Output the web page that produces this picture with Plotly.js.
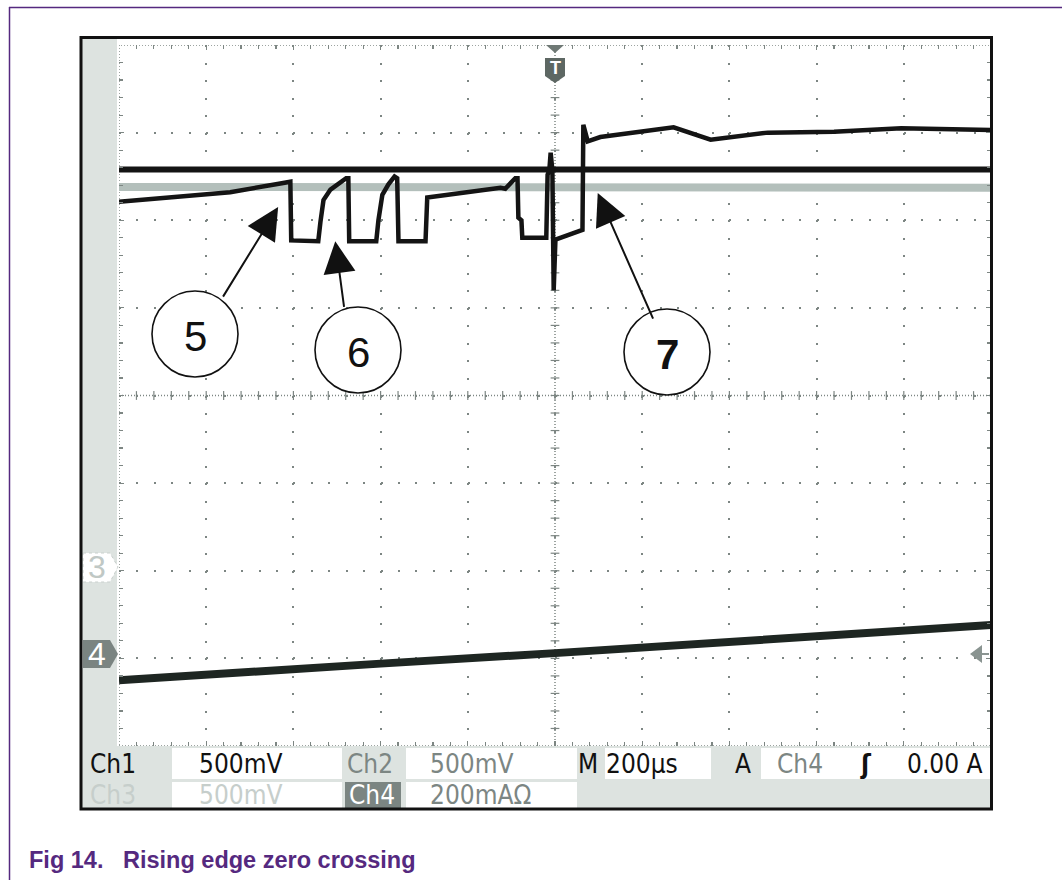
<!DOCTYPE html>
<html><head><meta charset="utf-8">
<script src="https://cdn.plot.ly/plotly-3.0.1.min.js"></script>
<style>html,body{margin:0;padding:0;background:#fff}#chart{width:1062px;height:880px}</style>
</head><body><div id="chart"></div>
<script>
// Horizontal: time in µs (200 µs/div, trigger at 0). Vertical: screen divisions.
const ch1Time = [-1000, -500, 0, 500, 1000];
const ch1Div  = [2.58, 2.58, 2.58, 2.57, 2.58];
const ch2Time = [-1000, 0, 1000];
const ch2Div  = [2.38, 2.37, 2.37];
const pulseTime = [-1000, -860, -745, -630, -607, -605, -543, -538, -531, -515, -493, -479, -474, -472, -410, -405, -396, -382, -368, -362, -359, -297, -293, -263, -194, -125, -114, -102, -91, -86, -84, -77, -75, -20, -17, -13, -10, -6, -3, 1, 63, 65, 75, 104, 242, 272, 357, 488, 640, 794, 1000];
const pulseDiv  = [2.21, 2.27, 2.32, 2.42, 2.44, 1.77, 1.76, 1.98, 2.23, 2.35, 2.43, 2.48, 2.48, 1.76, 1.76, 2.00, 2.29, 2.41, 2.50, 2.48, 1.76, 1.76, 2.26, 2.28, 2.32, 2.37, 2.36, 2.43, 2.48, 2.48, 2.03, 2.00, 1.80, 1.80, 2.52, 2.57, 2.77, 2.57, 1.20, 1.78, 1.89, 3.09, 2.90, 2.95, 3.03, 3.06, 2.92, 3.00, 3.01, 3.05, 3.03];
const ch4Time = [-1000, -700, -400, 0, 400, 700, 1000];
const ch4Div  = [-3.25, -3.15, -3.06, -2.94, -2.82, -2.72, -2.62];

const calloutLabels = ['5', '6', '7'];
const calloutTipTime = [-635, -504, 98];
const calloutTipDiv  = [2.15, 1.76, 2.31];

const statusRow1 = ['Ch1', '500mV', 'Ch2', '500mV', 'M', '200µs', 'A', 'Ch4', 'ʃ', '0.00 A'];
const statusRow2 = ['Ch3', '500mV', 'Ch4', '200mAΩ'];
const captionNum = 'Fig 14.';
const captionText = 'Rising edge zero crossing';

// ---- layout geometry (pixels) ----
const PL = 119, PW = 872, PT = 45, PH = 701;
const px = x => (x - PL) / PW;
const py = y => (PT + PH - y) / PH;
const pathPx = pts => 'M' + pts.map(p => px(p[0]).toFixed(5) + ',' + py(p[1]).toFixed(5)).join('L') + 'Z';
const rectPx = (x0, y0, x1, y1, fill, extra) => Object.assign({type: 'rect', xref: 'paper', yref: 'paper',
  x0: px(x0), x1: px(x1), y0: py(y1), y1: py(y0), fillcolor: fill, line: {width: 0}, layer: 'below'}, extra || {});

const GRAT = '#7d8683';
const PURPLE = '#55297f';
const shapes = [];
// screen body
shapes.push(rectPx(81, 37, 991.5, 809, '#dde3e0'));
shapes.push(rectPx(117, 39, 991, 746, '#ffffff'));
// status boxes
[[172, 342], [406, 577], [605, 711], [761, 991]].forEach(b => shapes.push(rectPx(b[0], 748, b[1], 779, '#ffffff')));
[[172, 342], [406, 577]].forEach(b => shapes.push(rectPx(b[0], 782, b[1], 808, '#ffffff')));
shapes.push(rectPx(345, 782, 401, 808, '#7b8582'));
// graticule border and centre lines (dense dots)
shapes.push({type: 'rect', xref: 'x', yref: 'y', x0: -1000, x1: 1000, y0: -4, y1: 4,
  line: {color: GRAT, width: 1.5, dash: '1px,2px'}, layer: 'below'});
shapes.push({type: 'line', xref: 'x', yref: 'y', x0: 0, x1: 0, y0: -4, y1: 4,
  line: {color: GRAT, width: 1.5, dash: '1px,2px'}, layer: 'below'});
shapes.push({type: 'line', xref: 'x', yref: 'y', x0: -1000, x1: 1000, y0: 0, y1: 0,
  line: {color: GRAT, width: 1.5, dash: '1px,2px'}, layer: 'below'});
for (let t = -960; t <= 960; t += 40) {
  shapes.push({type: 'line', xref: 'x', yref: 'y', x0: t, x1: t, y0: -0.05, y1: 0.05, line: {color: GRAT, width: 1.2}, layer: 'below'});
}
for (let v = -3.8; v <= 3.81; v += 0.2) {
  shapes.push({type: 'line', xref: 'x', yref: 'y', x0: -10, x1: 10, y0: v, y1: v, line: {color: GRAT, width: 1.2}, layer: 'below'});
}
// trigger marker
shapes.push({type: 'path', xref: 'paper', yref: 'paper', path: pathPx([[546, 45], [564, 45], [555, 53]]), fillcolor: '#6f7975', line: {width: 0}});
shapes.push({type: 'path', xref: 'paper', yref: 'paper', path: pathPx([[545, 58], [565, 58], [565, 76], [555, 83], [545, 76]]), fillcolor: '#5d6763', line: {width: 0}});
// channel ground markers
shapes.push({type: 'path', xref: 'paper', yref: 'paper', path: pathPx([[83, 553], [110, 553], [118, 567], [110, 582], [83, 582]]), fillcolor: '#ffffff', line: {width: 1, color: '#c9d0cd', dash: 'dot'}});
shapes.push({type: 'path', xref: 'paper', yref: 'paper', path: pathPx([[83, 640], [110, 640], [118, 654], [110, 668], [83, 668]]), fillcolor: '#7a8481', line: {width: 0}});
// trigger level arrow (right)
shapes.push({type: 'path', xref: 'paper', yref: 'paper', path: pathPx([[970, 654], [982, 645], [982, 663]]), fillcolor: '#8a9491', line: {width: 0}});
shapes.push({type: 'line', xref: 'paper', yref: 'paper', x0: px(982), x1: px(989), y0: py(654), y1: py(654), line: {color: '#8a9491', width: 2}});
// screen frame
shapes.push({type: 'rect', xref: 'paper', yref: 'paper', x0: px(81), x1: px(991.5), y0: py(809), y1: py(37.5), line: {color: '#111', width: 3}, fillcolor: 'rgba(0,0,0,0)'});
// page frame (purple)
shapes.push({type: 'line', xref: 'paper', yref: 'paper', x0: px(9.5), x1: px(9.5), y0: py(7), y1: py(880), line: {color: PURPLE, width: 1.5}});
shapes.push({type: 'line', xref: 'paper', yref: 'paper', x0: px(9), x1: px(1062), y0: py(7.5), y1: py(7.5), line: {color: PURPLE, width: 1.5}});
// callout circles
const circleCentres = [[195, 334], [358, 350], [667, 352]];
circleCentres.forEach(c => shapes.push({type: 'circle', xref: 'paper', yref: 'paper',
  x0: px(c[0] - 43), x1: px(c[0] + 43), y0: py(c[1] + 43), y1: py(c[1] - 43),
  fillcolor: '#ffffff', line: {color: '#111', width: 1.6}}));

const annotations = [];
const tails = [[222, 298], [344, 308], [653, 320]];
const tipsPx = [[278, 207], [335, 241], [597, 193]];
const anno = (txt, x, y, font, xa) => annotations.push({x: px(x), y: py(y), xref: 'paper', yref: 'paper', text: txt,
  showarrow: false, xanchor: xa || 'center', yanchor: 'middle', font: font});
calloutLabels.forEach((lab, i) => {
  annotations.push({x: calloutTipTime[i], y: calloutTipDiv[i], xref: 'x', yref: 'y', text: '',
    showarrow: true, arrowhead: 2, arrowsize: 3.2, arrowwidth: 2, arrowcolor: '#111', standoff: 0,
    ax: tails[i][0] - tipsPx[i][0], ay: tails[i][1] - tipsPx[i][1]});
  anno(lab, circleCentres[i][0], circleCentres[i][1] + 2,
    {family: 'Liberation Sans, Arial, sans-serif', size: 42, color: '#111', weight: i === 2 ? 'bold' : 'normal'});
});
const SF = 'Liberation Sans Narrow, Arial Narrow, DejaVu Sans Condensed, sans-serif';
const BLK = '#111', GRY = '#7c8683', FNT = '#c6cecb';
const row1X = [88, 197, 345, 428, 576, 604, 733, 775, 858, 905];
const row1C = [BLK, BLK, GRY, GRY, BLK, BLK, BLK, GRY, BLK, BLK];
statusRow1.forEach((t, i) => anno(t, row1X[i], 764, {family: SF, size: 26, color: row1C[i], weight: t === 'ʃ' ? 'bold' : 'normal'}, 'left'));
const row2X = [88, 197, 347, 428];
const row2C = [FNT, FNT, '#ffffff', GRY];
statusRow2.forEach((t, i) => anno(t, row2X[i], 795, {family: SF, size: 26, color: row2C[i]}, 'left'));
// marker labels
anno('3', 97, 567, {family: 'Liberation Sans, Arial, sans-serif', size: 32, color: '#c0c8c5'});
anno('4', 97, 654, {family: 'Liberation Sans, Arial, sans-serif', size: 32, color: '#ffffff'});
anno('T', 555, 68, {family: 'Liberation Sans, Arial, sans-serif', size: 18, color: '#ffffff', weight: 'bold'});
// caption
const CF = {family: 'Liberation Sans, Arial, sans-serif', size: 23.5, color: PURPLE, weight: 'bold'};
anno(captionNum, 27, 860, CF, 'left');
anno(captionText, 121, 860, CF, 'left');

const traces = [
  {x: ch2Time, y: ch2Div, mode: 'lines', line: {color: '#b3bfbb', width: 8}, name: 'Ch2'},
  {x: ch1Time, y: ch1Div, mode: 'lines', line: {color: '#141414', width: 6}, name: 'Ch1'},
  {x: pulseTime, y: pulseDiv, mode: 'lines', line: {color: '#141414', width: 4.5}, name: 'Ch3'},
  {x: ch4Time, y: ch4Div, mode: 'lines', line: {color: '#1e2622', width: 8}, name: 'Ch4'}
];

const axCommon = {showticklabels: false, zeroline: false, showline: false, fixedrange: true,
  ticks: 'inside', ticklen: 5, tickwidth: 1.2, tickcolor: GRAT, mirror: 'ticks', gridcolor: GRAT, gridwidth: 2};

const layout = {
  width: 1062, height: 880,
  margin: {l: PL, r: 1062 - PL - PW, t: PT, b: 880 - PT - PH},
  paper_bgcolor: '#ffffff', plot_bgcolor: '#ffffff',
  showlegend: false,
  xaxis: Object.assign({}, axCommon, {range: [-1000, 1000], tick0: 0, dtick: 200, griddash: '2px,15.525px',
    minor: {dtick: 40, ticks: 'inside', ticklen: 4, tickcolor: GRAT, tickwidth: 1.2, showgrid: false}}),
  yaxis: Object.assign({}, axCommon, {range: [-4, 4], tick0: 0, dtick: 1, griddash: '2px,15.44px',
    minor: {dtick: 0.2, ticks: 'inside', ticklen: 4, tickcolor: GRAT, tickwidth: 1.2, showgrid: false}}),
  shapes: shapes,
  annotations: annotations
};

Plotly.newPlot('chart', traces, layout, {staticPlot: true, displayModeBar: false});
</script>
</body></html>
